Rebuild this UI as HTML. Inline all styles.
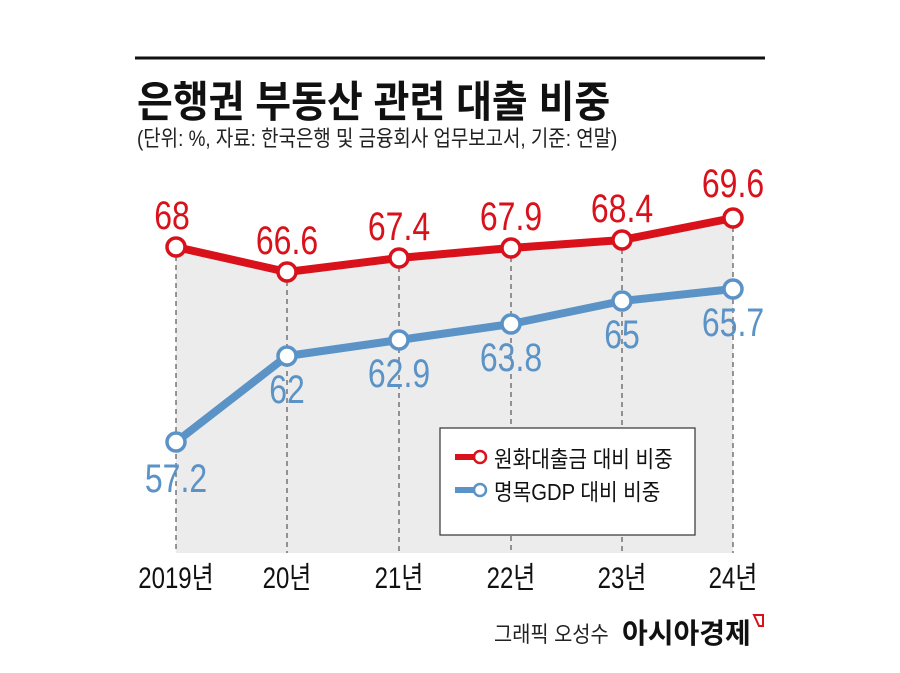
<!DOCTYPE html>
<html><head><meta charset="utf-8"><style>
body{margin:0;background:#fff;}
svg text{font-family:"Liberation Sans","Noto Sans CJK KR",sans-serif;}
</style></head><body>
<svg width="900" height="668" viewBox="0 0 900 668" xmlns="http://www.w3.org/2000/svg">
<rect width="900" height="668" fill="#fff"/>
<line x1="135" y1="58" x2="765" y2="58" stroke="#111" stroke-width="3"/>
<g transform="translate(137 117) scale(0.95 1.05)"><text x="0" y="0" font-size="41" font-weight="bold" fill="#111">은행권 부동산 관련 대출 비중</text></g>
<g transform="translate(137 146) scale(0.86 1)"><text x="0" y="0" font-size="22" fill="#222">(단위: %, 자료: 한국은행 및 금융회사 업무보고서, 기준: 연말)</text></g>
<polygon points="176,247 287,272 399,258 511,248 622,240 733,218 733,553 176,553" fill="#ececec"/>
<g stroke="#555" stroke-width="1.2" stroke-dasharray="5,4">
<line x1="176" y1="247" x2="176" y2="553"/><line x1="287" y1="272" x2="287" y2="553"/>
<line x1="399" y1="258" x2="399" y2="553"/><line x1="511" y1="248" x2="511" y2="553"/>
<line x1="622" y1="240" x2="622" y2="553"/><line x1="733" y1="218" x2="733" y2="553"/>
</g>
<polyline points="176,247 287,272 399,258 511,248 622,240 733,218" fill="none" stroke="#d9111b" stroke-width="8" stroke-linejoin="round"/>
<polyline points="176,442 287,356 399,340 511,324 622,301 733,289" fill="none" stroke="#5b93c7" stroke-width="8" stroke-linejoin="round"/>
<g fill="#fff" stroke="#d9111b" stroke-width="3.5">
<circle cx="176" cy="247" r="9"/><circle cx="287" cy="272" r="9"/><circle cx="399" cy="258" r="9"/>
<circle cx="511" cy="248" r="9"/><circle cx="622" cy="240" r="9"/><circle cx="733" cy="218" r="9"/>
</g>
<g fill="#fff" stroke="#5b93c7" stroke-width="3.5">
<circle cx="176" cy="442" r="9"/><circle cx="287" cy="356" r="9"/><circle cx="399" cy="340" r="9"/>
<circle cx="511" cy="324" r="9"/><circle cx="622" cy="301" r="9"/><circle cx="733" cy="289" r="9"/>
</g>
<g font-size="40" fill="#d9111b" text-anchor="middle">
<g transform="translate(172 229) scale(0.8 1)"><text>68</text></g>
<g transform="translate(287 254) scale(0.8 1)"><text>66.6</text></g>
<g transform="translate(399 240) scale(0.8 1)"><text>67.4</text></g>
<g transform="translate(511 230) scale(0.8 1)"><text>67.9</text></g>
<g transform="translate(622 222) scale(0.8 1)"><text>68.4</text></g>
<g transform="translate(733 197) scale(0.8 1)"><text>69.6</text></g>
</g>
<g font-size="40" fill="#5b93c7" text-anchor="middle">
<g transform="translate(176 492) scale(0.8 1)"><text>57.2</text></g>
<g transform="translate(287 403) scale(0.8 1)"><text>62</text></g>
<g transform="translate(399 387) scale(0.8 1)"><text>62.9</text></g>
<g transform="translate(511 371) scale(0.8 1)"><text>63.8</text></g>
<g transform="translate(622 348) scale(0.8 1)"><text>65</text></g>
<g transform="translate(733 336) scale(0.8 1)"><text>65.7</text></g>
</g>
<rect x="440" y="428" width="255" height="107" fill="#fff" stroke="#333" stroke-width="1.2"/>
<line x1="455" y1="457" x2="475" y2="457" stroke="#d9111b" stroke-width="6"/>
<circle cx="480" cy="457" r="6" fill="#fff" stroke="#d9111b" stroke-width="2.5"/>
<line x1="455" y1="490" x2="475" y2="490" stroke="#5b93c7" stroke-width="6"/>
<circle cx="480" cy="490" r="6" fill="#fff" stroke="#5b93c7" stroke-width="2.5"/>
<g font-size="23" fill="#111">
<g transform="translate(494 467) scale(0.88 1)"><text>원화대출금 대비 비중</text></g>
<g transform="translate(494 500) scale(0.88 1)"><text>명목GDP 대비 비중</text></g>
</g>
<g font-size="30" fill="#111" text-anchor="middle">
<g transform="translate(176 588) scale(0.8 1)"><text>2019년</text></g>
<g transform="translate(287 588) scale(0.8 1)"><text>20년</text></g>
<g transform="translate(399 588) scale(0.8 1)"><text>21년</text></g>
<g transform="translate(511 588) scale(0.8 1)"><text>22년</text></g>
<g transform="translate(622 588) scale(0.8 1)"><text>23년</text></g>
<g transform="translate(733 588) scale(0.8 1)"><text>24년</text></g>
</g>
<g transform="translate(494 642) scale(0.9 1)"><text font-size="22" fill="#222">그래픽 오성수</text></g>
<text x="622" y="643" font-size="28" font-weight="bold" fill="#111">아시아경제</text>
<path d="M754 615 L763 615 L763 626 L759 626 Z" fill="none" stroke="#d9111b" stroke-width="2"/>
</svg>
</body></html>
